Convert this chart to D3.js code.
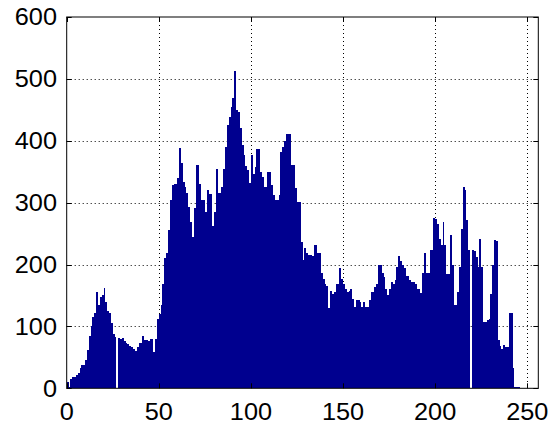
<!DOCTYPE html>
<html>
<head>
<meta charset="utf-8">
<script src="https://cdn.jsdelivr.net/npm/d3@7"></script>
<style>
  body { margin: 0; background: #fff; }
  svg { display: block; }
  text { font-family: "Liberation Sans", Arial, Helvetica, sans-serif; fill: #000; }
</style>
</head>
<body>
<svg id="chart" width="560" height="430"></svg>
<script>
// Histogram counts for intensity levels 0..255
const counts = [
  10, 2, 15, 19, 19, 22, 24, 33, 37, 37, 45, 62, 85, 100, 115, 122,
  155, 135, 147, 150, 162, 140, 125, 122, 105, 88, 83, 0, 82, 80, 81, 77,
  73, 72, 69, 67, 64, 61, 67, 73, 74, 85, 78, 78, 77, 80, 79, 58,
  80, 112, 120, 134, 168, 211, 218, 256, 305, 328, 330, 330, 340, 388, 364, 334,
  326, 315, 293, 269, 245, 291, 361, 361, 330, 304, 304, 285, 321, 314, 314, 262,
  285, 355, 316, 316, 326, 355, 390, 426, 438, 455, 469, 512, 450, 447, 420, 393,
  377, 359, 353, 331, 377, 347, 357, 386, 386, 350, 342, 326, 326, 350, 350, 328,
  312, 304, 304, 312, 382, 390, 400, 411, 411, 411, 361, 361, 323, 301, 301, 237,
  207, 226, 218, 216, 215, 214, 232, 232, 218, 218, 186, 176, 169, 165, 129, 158,
  152, 156, 169, 169, 194, 177, 169, 160, 156, 158, 160, 145, 132, 142, 142, 140,
  132, 140, 131, 132, 142, 156, 156, 164, 169, 199, 199, 186, 180, 160, 150, 160,
  172, 169, 175, 196, 214, 205, 199, 194, 181, 181, 175, 172, 172, 168, 161, 161,
  154, 187, 218, 186, 186, 223, 223, 275, 273, 266, 242, 231, 268, 231, 184, 184,
  248, 200, 134, 134, 156, 196, 257, 326, 320, 272, 223, 0, 223, 222, 212, 196,
  242, 196, 107, 107, 110, 112, 153, 200, 240, 238, 78, 68, 64, 70, 67, 67,
  121, 121, 32, 2, 2, 2, 0, 0, 0, 0, 0, 0, 0, 0, 0, 0
];
const xTicks = [0, 50, 100, 150, 200, 250];
const yTicks = [0, 100, 200, 300, 400, 500, 600];
const xLimits = [0, 256];
const yLimits = [0, 600];

const svg = d3.select("#chart");
const box = { left: 66.7, right: 538.3, top: 17, bottom: 388.3 };

const x = d3.scaleLinear().domain(xLimits).range([box.left, box.right]);
const y = d3.scaleLinear().domain(yLimits).range([box.bottom, box.top]);

const barColor = "#00008f";
const tickLen = 5;
const labelScale = 1.1;

// dotted grid, drawn underneath the bars
const grid = svg.append("g")
  .attr("stroke", "#000")
  .attr("stroke-width", 1)
  .attr("stroke-dasharray", "1,3");
grid.selectAll("line.vx")
  .data(xTicks.filter(t => t > xLimits[0] && t < xLimits[1]))
  .join("line")
  .attr("class", "vx")
  .attr("x1", d => Math.round(x(d)) + 0.5).attr("x2", d => Math.round(x(d)) + 0.5)
  .attr("y1", box.top).attr("y2", box.bottom);
grid.selectAll("line.hy")
  .data(yTicks.filter(t => t > yLimits[0] && t < yLimits[1]))
  .join("line")
  .attr("class", "hy")
  .attr("y1", d => Math.round(y(d)) + 0.5).attr("y2", d => Math.round(y(d)) + 0.5)
  .attr("x1", box.left).attr("x2", box.right);

// one bar per intensity bin, spanning [i, i+1]; crisp edges keep neighbours seamless
const bins = counts.map((c, i) => ({ i, c })).filter(d => d.c > 0);
svg.append("g")
  .attr("shape-rendering", "crispEdges")
  .selectAll("rect")
  .data(bins)
  .join("rect")
  .attr("x", d => x(d.i))
  .attr("width", d => x(d.i + 1) - x(d.i))
  .attr("y", d => y(d.c))
  .attr("height", d => y(0) - y(d.c))
  .attr("fill", barColor);

// axes box with inward ticks on all four sides
const axes = svg.append("g").attr("stroke", "#000").attr("stroke-width", 1).attr("fill", "none");
axes.append("rect")
  .attr("x", box.left).attr("y", box.top)
  .attr("width", box.right - box.left).attr("height", box.bottom - box.top);
xTicks.forEach(t => {
  const px = Math.round(x(t)) + 0.5;
  axes.append("line").attr("x1", px).attr("x2", px).attr("y1", box.bottom).attr("y2", box.bottom - tickLen);
  axes.append("line").attr("x1", px).attr("x2", px).attr("y1", box.top).attr("y2", box.top + tickLen);
});
yTicks.forEach(t => {
  const py = Math.round(y(t)) + 0.5;
  axes.append("line").attr("y1", py).attr("y2", py).attr("x1", box.left).attr("x2", box.left + tickLen);
  axes.append("line").attr("y1", py).attr("y2", py).attr("x1", box.right).attr("x2", box.right - tickLen);
});

// tick labels
const fontSize = 23;
svg.append("g").selectAll("text")
  .data(yTicks)
  .join("text")
  .attr("transform", d => `translate(57,${y(d) + 0.36 * fontSize}) scale(${labelScale},1)`)
  .attr("text-anchor", "end")
  .attr("font-size", fontSize)
  .text(d => d);
svg.append("g").selectAll("text")
  .data(xTicks)
  .join("text")
  .attr("transform", d => `translate(${x(d)},${420}) scale(${labelScale},1)`)
  .attr("text-anchor", "middle")
  .attr("font-size", fontSize)
  .text(d => d);
</script>
</body>
</html>
